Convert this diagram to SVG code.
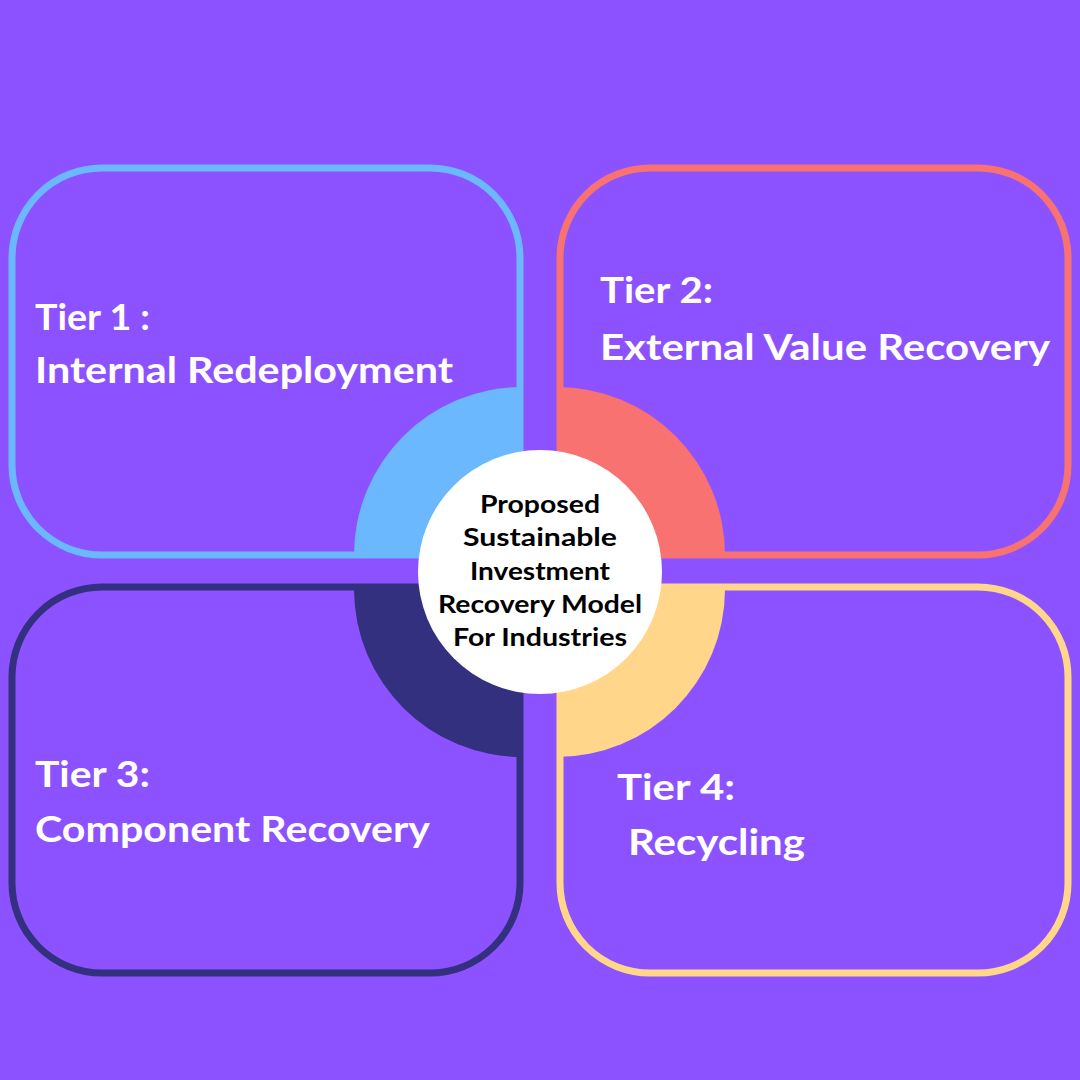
<svg xmlns="http://www.w3.org/2000/svg" width="1080" height="1080" viewBox="0 0 1080 1080">
<style>
.box{fill:none;stroke-width:7}
.t{font-family:"Lato","Liberation Sans",sans-serif;font-weight:bold;font-size:37px;fill:#fff}
.c{font-family:"Lato","Liberation Sans",sans-serif;font-weight:bold;font-size:24px;fill:#000}
</style>
<rect width="1080" height="1080" fill="#8c52ff"/>
<g id="tier1"><rect class="box" x="12" y="168" width="508" height="387" rx="90" stroke="#6bb8ff"/><path d="M522,555 L522,387 A168,168 0 0 0 354,555 Z" fill="#6bb8ff"/><text class="t" x="35" y="330" textLength="115" lengthAdjust="spacingAndGlyphs">Tier 1 :</text><text class="t" x="35" y="383" textLength="418" lengthAdjust="spacingAndGlyphs">Internal Redeployment</text></g>
<g id="tier2"><rect class="box" x="560" y="168" width="508" height="387" rx="90" stroke="#f87272"/><path d="M557,555 L557,387 A168,168 0 0 1 725,555 Z" fill="#f87272"/><text class="t" x="600" y="303" textLength="113" lengthAdjust="spacingAndGlyphs">Tier 2:</text><text class="t" x="600" y="360" textLength="450" lengthAdjust="spacingAndGlyphs">External Value Recovery</text></g>
<g id="tier3"><rect class="box" x="12" y="587" width="508" height="386" rx="90" stroke="#333080"/><path d="M522,590 L522,757 A168,168 0 0 1 354,590 Z" fill="#333080"/><text class="t" x="35" y="787" textLength="115" lengthAdjust="spacingAndGlyphs">Tier 3:</text><text class="t" x="35" y="842" textLength="395" lengthAdjust="spacingAndGlyphs">Component Recovery</text></g>
<g id="tier4"><rect class="box" x="560" y="587" width="508" height="386" rx="90" stroke="#ffd68a"/><path d="M557,590 L557,757 A168,168 0 0 0 725,590 Z" fill="#ffd68a"/><text class="t" x="617" y="800" textLength="118" lengthAdjust="spacingAndGlyphs">Tier 4:</text><text class="t" x="628" y="855" textLength="177" lengthAdjust="spacingAndGlyphs">Recycling</text></g>
<g id="center"><circle cx="540" cy="572" r="122" fill="#fff"/>
<text class="c" x="480" y="513" textLength="120" lengthAdjust="spacingAndGlyphs">Proposed</text>
<text class="c" x="463" y="546" textLength="154" lengthAdjust="spacingAndGlyphs">Sustainable</text>
<text class="c" x="470" y="580" textLength="140" lengthAdjust="spacingAndGlyphs">Investment</text>
<text class="c" x="438" y="613" textLength="204" lengthAdjust="spacingAndGlyphs">Recovery Model</text>
<text class="c" x="453" y="646" textLength="174" lengthAdjust="spacingAndGlyphs">For Industries</text></g>
<g id="connectors"/>
</svg>
